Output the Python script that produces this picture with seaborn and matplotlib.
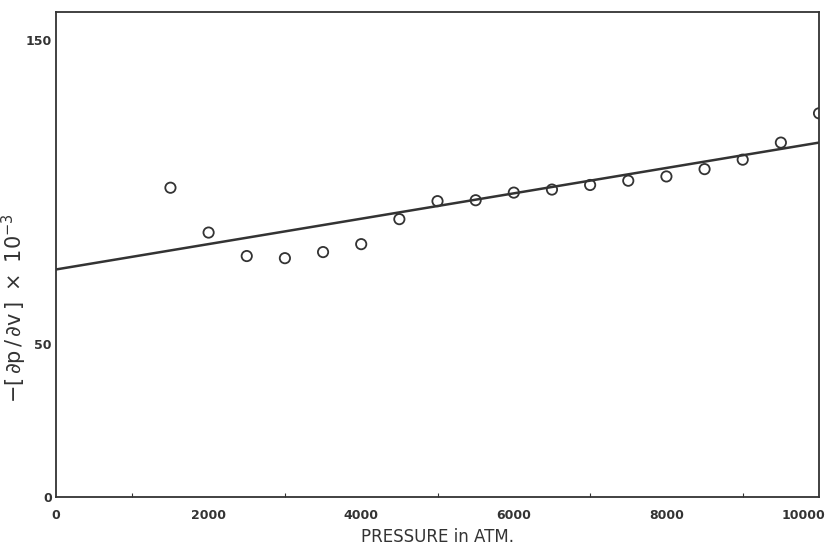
import matplotlib
matplotlib.use("Agg")
import matplotlib.pyplot as plt
import matplotlib.transforms as mtransforms
import seaborn as sns
import pandas as pd
from matplotlib.ticker import MultipleLocator

pressure = [1500, 2000, 2500, 3000, 3500, 4000, 4500, 5000, 5500, 6000,
            6500, 7000, 7500, 8000, 8500, 9000, 9500, 10000]
dpdv = [101.4, 86.7, 79.0, 78.3, 80.3, 82.9, 91.1, 97.0, 97.3, 99.8,
        100.8, 102.3, 103.7, 105.1, 107.5, 110.6, 116.2, 125.8]
fit_x = [0, 10000]
fit_y = [74.6, 116.2]
x_ticks = [0, 2000, 4000, 6000, 8000, 10000]
y_ticks = [0, 50, 150]

sns.set_theme(style="white")
plt.rcParams['font.family'] = ['DejaVu Sans']

fig = plt.figure(figsize=(8.32, 5.48), dpi=100)
ax = fig.add_axes([0.0673, 0.0931, 0.9171, 0.8849])

ink = "#333333"
df = pd.DataFrame({"p": pressure, "v": dpdv})
fit = pd.DataFrame({"p": fit_x, "v": fit_y})
sns.lineplot(data=fit, x="p", y="v", ax=ax, color=ink, lw=1.8)
sns.scatterplot(data=df, x="p", y="v", ax=ax, marker="o", s=55,
                facecolor="none", edgecolor=ink, linewidth=1.3, zorder=3)

ax.set_xlim(0, 10000)
ax.set_ylim(0, 159)
ax.set_xticks(x_ticks)
ax.set_yticks(y_ticks)
ax.xaxis.set_minor_locator(MultipleLocator(1000))
ax.tick_params(axis="both", which="major", direction="in", length=5, width=1,
               color=ink, labelsize=9, labelcolor=ink)
ax.tick_params(axis="x", which="major", pad=9)
ax.tick_params(axis="y", which="major", pad=3)
ax.tick_params(axis="x", which="minor", direction="in", length=3, width=0.8, color=ink, bottom=True)
for lab in ax.get_xticklabels() + ax.get_yticklabels():
    lab.set_fontweight("bold")
last = ax.get_xticklabels()[-1]
last.set_transform(last.get_transform() + mtransforms.ScaledTranslation(-16/100, 0, fig.dpi_scale_trans))
for s in ax.spines.values():
    s.set_color(ink)
    s.set_linewidth(1.3)

ax.set_xlabel("PRESSURE in ATM.", fontsize=12, color=ink, labelpad=4)
ax.set_ylabel(r"$-\left[\,\mathrm{\partial p\,/\,\partial v}\,\right]\ \times\ \mathrm{10^{-3}}$",
              fontsize=15, color=ink)
ax.yaxis.set_label_coords(-0.035, 0.39)

fig.savefig("out.png", dpi=100)
